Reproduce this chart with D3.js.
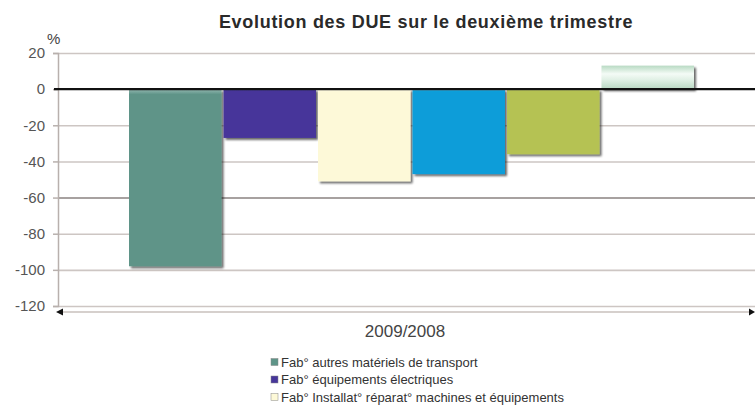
<!DOCTYPE html>
<html><head><meta charset="utf-8">
<script src="https://cdn.jsdelivr.net/npm/d3@7"></script>
<style>body{margin:0;background:#fff;overflow:hidden}svg{display:block;font-family:Arial,"Liberation Sans",sans-serif}</style>
</head><body><svg id="c" width="755" height="412"></svg>
<script>
const title = "Evolution des DUE sur le deuxième trimestre";
const categories = ["2009/2008"];
const seriesNames = [
  "Fab° autres matériels de transport",
  "Fab° équipements électriques",
  "Fab° Installat° réparat° machines et équipements",
  "Série 4",
  "Série 5",
  "Série 6"
];
const legendShown = 3; // only the first three legend lines are visible in the picture
const seriesValues = [-98, -27, -51, -47, -36, 13];
const seriesColors = ["#5e9488", "#46369a", "#fdf9d8", "#0a9dd9", "#b5c252", "#cfe8d6"];
const yTicks = [20, 0, -20, -40, -60, -80, -100, -120];

const svg = d3.select("#c");
const L = 58, R = 752, T = 53, B = 306;
const y = d3.scaleLinear().domain([-120, 20]).range([B, T]);
const x0 = d3.scaleBand().domain(categories).range([L, R]);
const groupW = 567;
const gc = x0("2009/2008") + x0.bandwidth() / 2 + 7.5;
const x1 = d3.scaleBand().domain(seriesNames).range([gc - groupW / 2, gc + groupW / 2]).paddingInner(0);

const defs = svg.append("defs");
const flt = defs.append("filter").attr("id", "sh").attr("x", "-10%").attr("y", "-10%").attr("width", "130%").attr("height", "130%");
flt.append("feGaussianBlur").attr("in", "SourceAlpha").attr("stdDeviation", 1.2);
flt.append("feOffset").attr("dx", 2).attr("dy", 2).attr("result", "o");
flt.append("feComponentTransfer").append("feFuncA").attr("type", "linear").attr("slope", 0.6);
const fm = flt.append("feMerge"); fm.append("feMergeNode"); fm.append("feMergeNode").attr("in", "SourceGraphic");

seriesColors.forEach((c, i) => {
  const g = defs.append("linearGradient").attr("id", "g" + i).attr("x1", 0).attr("y1", 0).attr("x2", 0).attr("y2", 1);
  const hi = d3.interpolateRgb(c, "#ffffff")(0.35);
  if (i === 5) {
    g.append("stop").attr("offset", "0%").attr("stop-color", "#b8dac3");
    g.append("stop").attr("offset", "35%").attr("stop-color", "#f4fbf6");
    g.append("stop").attr("offset", "60%").attr("stop-color", "#e0f0e5");
    g.append("stop").attr("offset", "100%").attr("stop-color", "#b8d8c2");
  } else {
    g.append("stop").attr("offset", "0%").attr("stop-color", hi);
    g.append("stop").attr("offset", "3%").attr("stop-color", c);
    g.append("stop").attr("offset", "100%").attr("stop-color", c);
  }
});

// gridlines
svg.append("g").selectAll("line").data(yTicks.filter(d => d !== 0)).join("line")
  .attr("x1", L).attr("x2", 755).attr("y1", d => y(d) + 0.5).attr("y2", d => y(d) + 0.5)
  .attr("stroke", d => d === -60 ? "#8a8280" : "#cdc6c3").attr("stroke-width", 1.6);

// y axis
const yAxis = d3.axisLeft(y).tickValues(yTicks).tickSize(5).tickPadding(8).tickFormat(d => String(d));
const ya = svg.append("g").attr("transform", `translate(${L},0)`).call(yAxis);
ya.select(".domain").attr("stroke", "#b8b0ad").attr("stroke-width", 1.5);
ya.selectAll(".tick line").attr("stroke", "#b8b0ad").attr("stroke-width", 1.5);
ya.selectAll(".tick text").attr("font-size", 15).attr("fill", "#555").attr("font-family", "Arial, 'Liberation Sans', sans-serif");

// bars
svg.append("g").selectAll("rect").data(seriesValues).join("rect")
  .attr("x", (d, i) => x1(seriesNames[i]))
  .attr("width", x1.bandwidth() - 2)
  .attr("y", d => y(Math.max(0, d)))
  .attr("height", d => Math.abs(y(d) - y(0)))
  .attr("fill", (d, i) => `url(#g${i})`)
  .attr("filter", "url(#sh)");

// zero line
svg.append("line").attr("x1", L - 4).attr("x2", 755).attr("y1", y(0)).attr("y2", y(0))
  .attr("stroke", "#111").attr("stroke-width", 2.2);

// x axis with arrows
const ax = 312;
svg.append("line").attr("x1", L + 4).attr("x2", 750).attr("y1", ax).attr("y2", ax).attr("stroke", "#c8c0bd").attr("stroke-width", 1.6);
svg.append("path").attr("d", `M${L - 2},${ax} l7,-3.5 l0,7 z`).attr("fill", "#111");
svg.append("path").attr("d", `M755,${ax} l-6,-3.5 l0,7 z`).attr("fill", "#111");

// texts
svg.append("text").attr("x", 426).attr("y", 28).attr("text-anchor", "middle")
  .attr("font-size", 18).attr("font-weight", "bold").attr("letter-spacing", 0.7).attr("fill", "#2a2a2a").text(title);
svg.append("text").attr("x", 47).attr("y", 44).attr("font-size", 15).attr("fill", "#444").text("%");
svg.append("text").attr("x", x0("2009/2008") + x0.bandwidth() / 2).attr("y", 337).attr("text-anchor", "middle")
  .attr("font-size", 17).attr("fill", "#444").text(categories[0]);

// legend
const lg = svg.append("g").selectAll("g").data(seriesNames.slice(0, legendShown)).join("g")
  .attr("transform", (d, i) => `translate(271,${366.5 + i * 17.5})`);
lg.append("rect").attr("x", 0).attr("y", -8).attr("width", 7).attr("height", 7)
  .attr("fill", (d, i) => seriesColors[i]).attr("stroke", "#888").attr("stroke-width", 0.5);
lg.append("text").attr("x", 10).attr("y", 0).attr("font-size", 13).attr("fill", "#333").text(d => d);
</script></body></html>
